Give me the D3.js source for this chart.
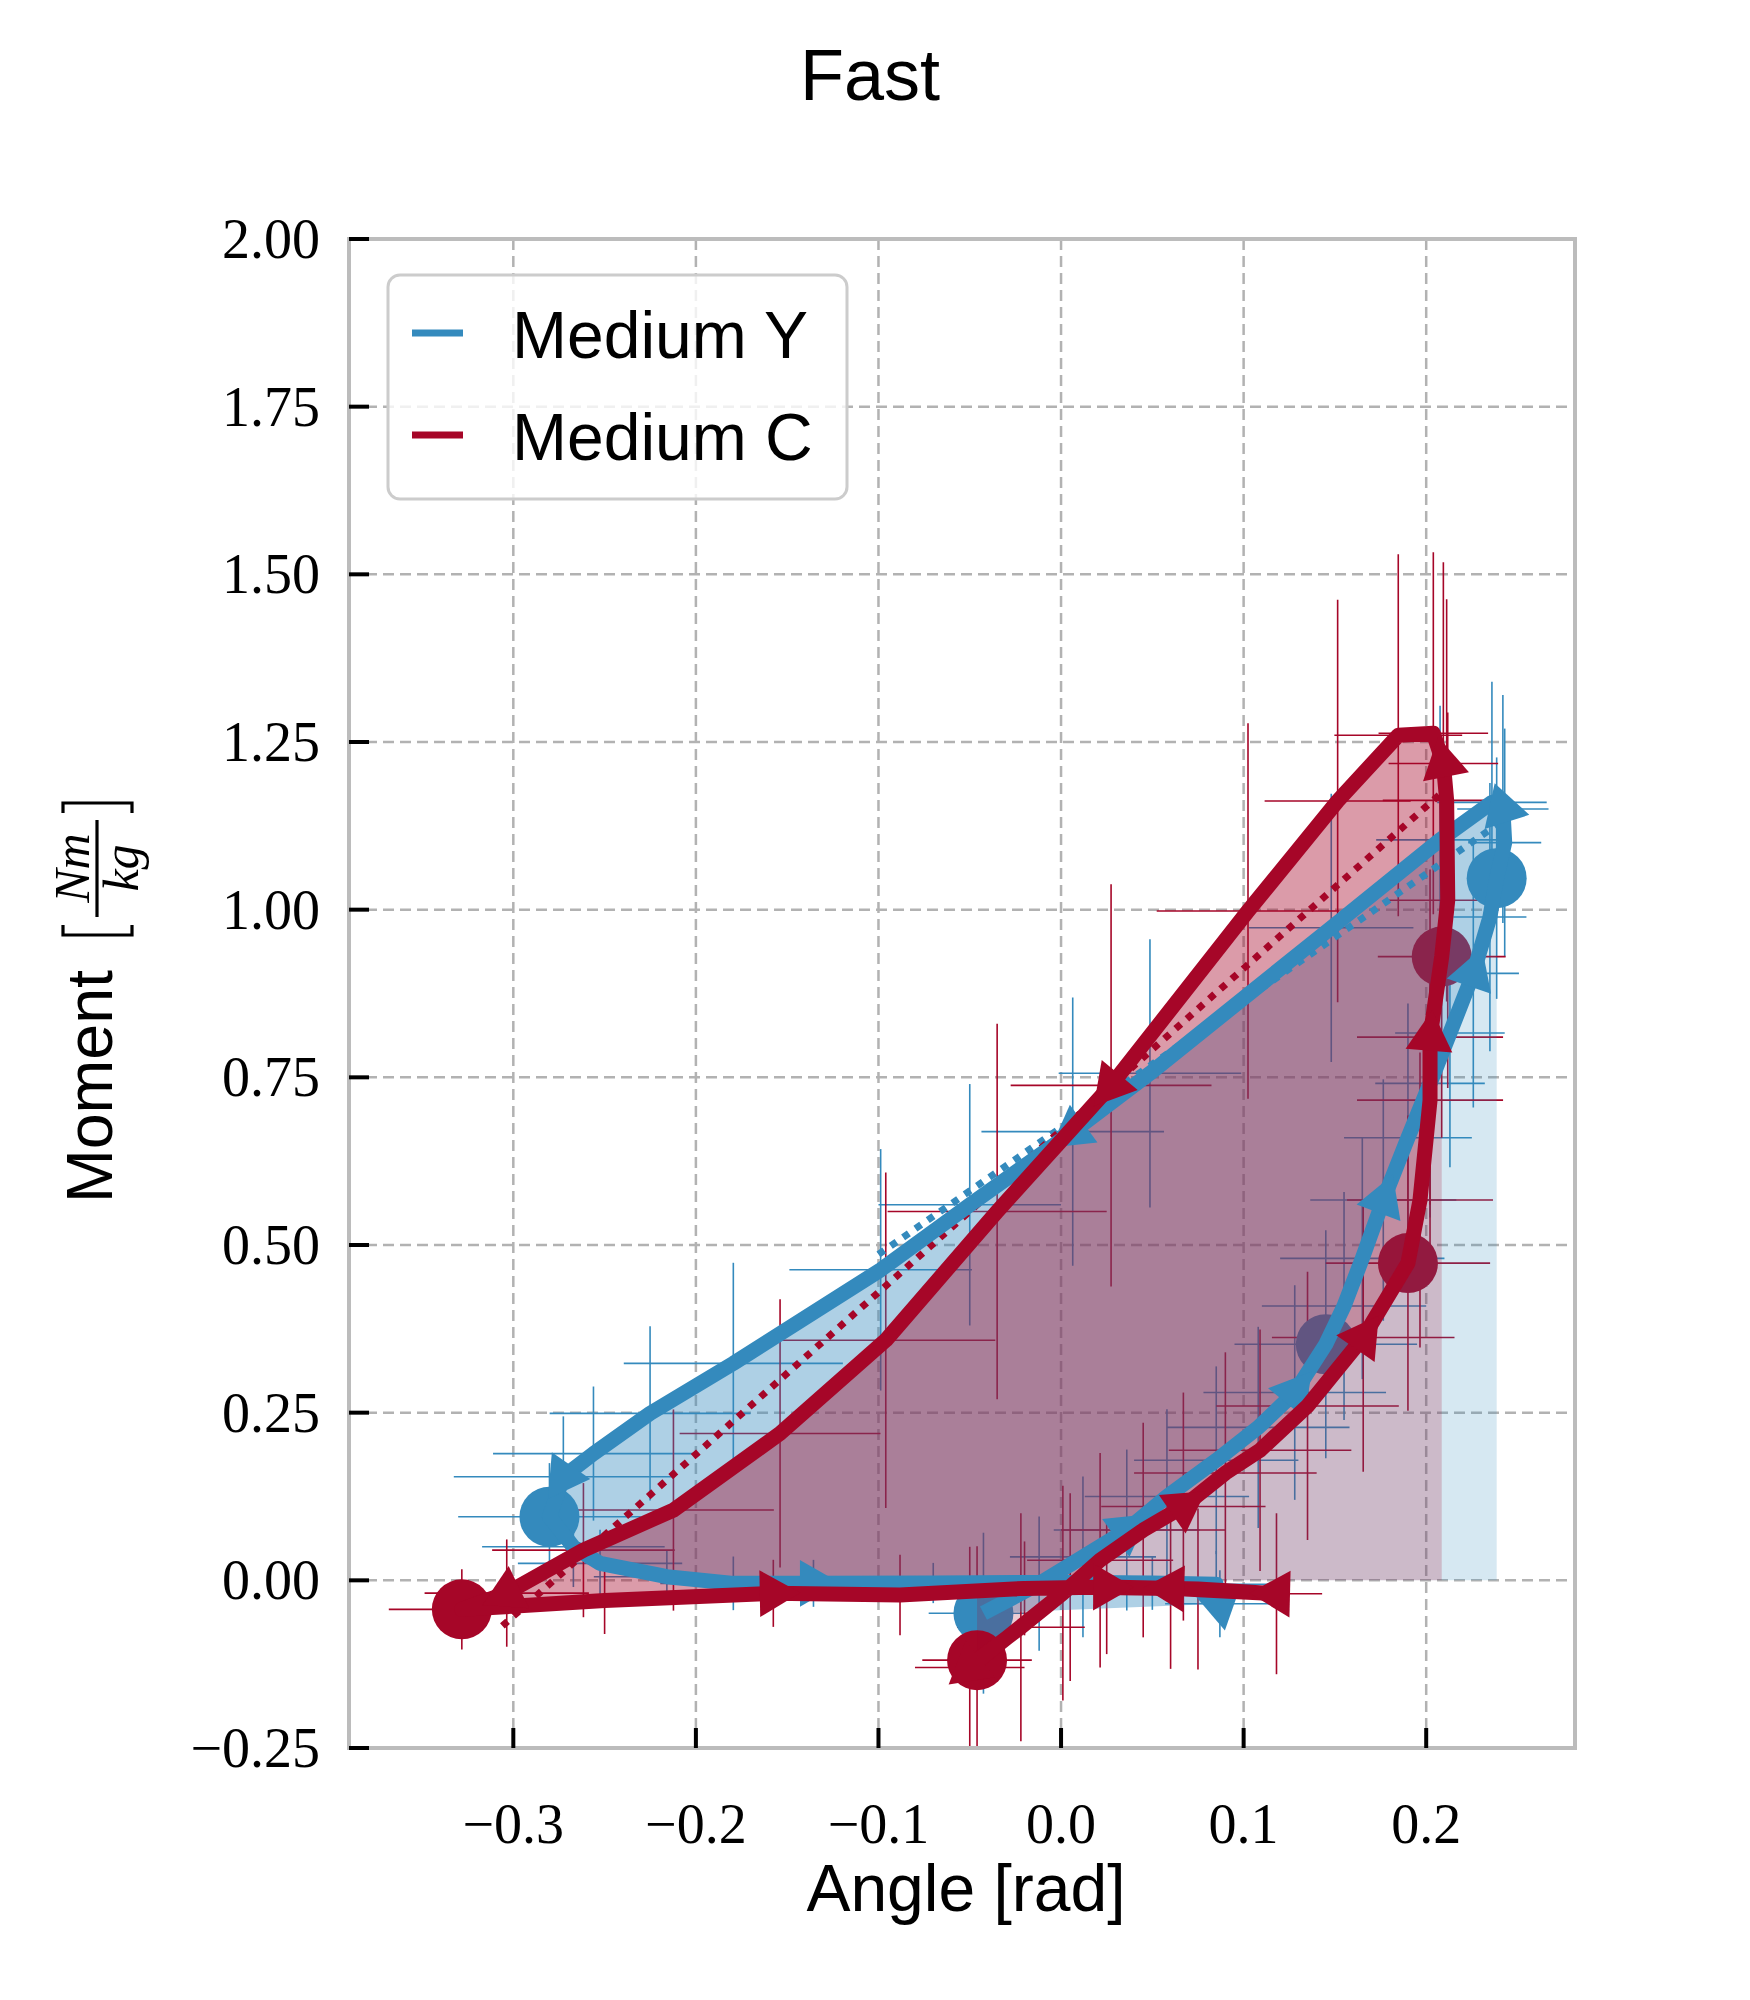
<!DOCTYPE html>
<html>
<head>
<meta charset="utf-8">
<title>Fast</title>
<script src="https://d3js.org/d3.v7.min.js"></script>
<style>
  body { margin: 0; background: #fff; }
</style>
</head>
<body>
<svg id="chart" width="1750" height="2000"></svg>
<script>
// tick values
var xTicks = [-0.3, -0.2, -0.1, 0.0, 0.1, 0.2];
var yTicks = [-0.25, 0, 0.25, 0.5, 0.75, 1.0, 1.25, 1.5, 1.75, 2.0];

// Medium Y (blue) - angle, moment, and the error of each point
var blueX = [-0.0425, -0.012, 0.012, 0.036, 0.058, 0.085, 0.108, 0.128, 0.145, 0.155,
             0.165, 0.1765, 0.19, 0.2021, 0.213, 0.2258, 0.2349, 0.2386, 0.243, 0.242,
             0.236, 0.2076, 0.148, 0.0487, 0.0064, -0.05, -0.0988, -0.1795, -0.2251, -0.2561,
             -0.2726, -0.2802, -0.2671, -0.2525, -0.2159, -0.1795, -0.1356, -0.07, 0.0, 0.05,
             0.085, 0.087];
var blueY = [-0.049, -0.005, 0.035, 0.075, 0.125, 0.179, 0.228, 0.28, 0.352, 0.409,
             0.48, 0.567, 0.66, 0.741, 0.816, 0.905, 0.989, 1.047, 1.10, 1.15,
             1.16, 1.104, 0.973, 0.756, 0.669, 0.56, 0.463, 0.3235, 0.249, 0.189,
             0.1545, 0.0948, 0.050, 0.0253, 0.0054, -0.0045, -0.0045, -0.004, -0.003, -0.004,
             -0.006, -0.035];
var blueXerr = [0.03, 0.035, 0.04, 0.04, 0.045, 0.045, 0.05, 0.05, 0.05, 0.045,
                0.045, 0.04, 0.035, 0.03, 0.03, 0.025, 0.02, 0.015, 0.02, 0.025,
                0.03, 0.035, 0.045, 0.05, 0.05, 0.05, 0.05, 0.06, 0.055, 0.055,
                0.06, 0.05, 0.05, 0.045, 0.04, 0.04, 0.035, 0.03, 0.03, 0.03,
                0.03, 0.03];
var blueYerr = [0.12, 0.10, 0.12, 0.12, 0.13, 0.14, 0.15, 0.16, 0.17, 0.17,
                0.18, 0.18, 0.20, 0.20, 0.20, 0.20, 0.20, 0.18, 0.17, 0.17,
                0.18, 0.20, 0.20, 0.20, 0.20, 0.18, 0.18, 0.15, 0.13, 0.10,
                0.09, 0.08, 0.06, 0.05, 0.04, 0.04, 0.035, 0.03, 0.03, 0.04,
                0.05, 0.05];
var blueEvents = [0, 8, 17, 31];
var blueArrows = [3, 7, 11, 15, 19, 24, 30, 36, 41];
var blueFitX = [-0.10, 0.24];
var blueFitY = [0.486, 1.129];

// Medium C (red)
var redX = [-0.046, -0.022, 0.001, 0.0214, 0.045, 0.067, 0.09, 0.109, 0.135, 0.1655,
            0.190, 0.1966, 0.2021, 0.2021, 0.2085, 0.2118, 0.2112, 0.2094, 0.2039, 0.1847,
            0.1515, 0.1024, 0.0274, -0.035, -0.096, -0.1539, -0.2123, -0.2616, -0.3036, -0.3282,
            -0.25, -0.1576, -0.0882, -0.02, 0.025, 0.075, 0.118, 0.06, 0.005, -0.05];
var redY = [-0.119, -0.07, -0.019, 0.030, 0.075, 0.110, 0.16, 0.194, 0.26, 0.362,
            0.473, 0.567, 0.716, 0.810, 0.930, 1.014, 1.163, 1.218, 1.263, 1.260,
            1.162, 0.998, 0.738, 0.55, 0.358, 0.219, 0.1048, 0.045, -0.019, -0.0433,
            -0.03, -0.0194, -0.0219, -0.012, -0.01, -0.013, -0.02, -0.012, -0.01, -0.13];
var redXerr = [0.03, 0.035, 0.04, 0.04, 0.045, 0.045, 0.05, 0.05, 0.05, 0.05,
               0.045, 0.04, 0.04, 0.04, 0.035, 0.035, 0.035, 0.03, 0.03, 0.035,
               0.04, 0.05, 0.055, 0.06, 0.06, 0.055, 0.055, 0.05, 0.045, 0.04,
               0.04, 0.035, 0.03, 0.03, 0.03, 0.03, 0.025, 0.03, 0.03, 0.03];
var redYerr = [0.17, 0.17, 0.16, 0.16, 0.16, 0.17, 0.18, 0.18, 0.20, 0.20,
               0.22, 0.22, 0.25, 0.25, 0.27, 0.28, 0.30, 0.30, 0.27, 0.27,
               0.30, 0.28, 0.30, 0.28, 0.25, 0.20, 0.15, 0.10, 0.08, 0.06,
               0.05, 0.05, 0.06, 0.07, 0.10, 0.12, 0.12, 0.12, 0.14, 0.18];
var redEvents = [0, 10, 14, 29];
var redArrows = [5, 9, 13, 17, 22, 28, 31, 34, 36, 37, 39];
var redFitX = [-0.306, 0.21];
var redFitY = [-0.068, 1.178];

var BLUE = "#348ABD", RED = "#A60628";

var svg = d3.select("#chart");
var pL = 349, pR = 1575, pT = 239, pB = 1748;

var x = d3.scaleLinear().domain([-0.390, 0.2815]).range([pL, pR]);
var y = d3.scaleLinear().domain([-0.25, 2.0]).range([pB, pT]);

function pts(xs, ys, xe, ye) {
  return xs.map(function(v, i) { return {x: v, y: ys[i], xe: xe[i], ye: ye[i]}; });
}
var series = [
  {name: "Medium Y", color: BLUE, data: pts(blueX, blueY, blueXerr, blueYerr),
   events: blueEvents, arrows: blueArrows, fitX: blueFitX, fitY: blueFitY},
  {name: "Medium C", color: RED, data: pts(redX, redY, redXerr, redYerr),
   events: redEvents, arrows: redArrows, fitX: redFitX, fitY: redFitY}
];

svg.append("defs").append("clipPath").attr("id", "clip")
  .append("rect").attr("x", pL).attr("y", pT)
  .attr("width", pR - pL).attr("height", pB - pT);

// grid
var grid = svg.append("g");
grid.selectAll(".gx").data(xTicks).enter().append("line")
  .attr("x1", function(d) { return x(d); }).attr("x2", function(d) { return x(d); })
  .attr("y1", pT).attr("y2", pB)
  .attr("stroke", "#b2b2b2").attr("stroke-width", 2.5).attr("stroke-dasharray", "11,6");
grid.selectAll(".gy").data(yTicks).enter().append("line")
  .attr("x1", pL).attr("x2", pR)
  .attr("y1", function(d) { return y(d); }).attr("y2", function(d) { return y(d); })
  .attr("stroke", "#b2b2b2").attr("stroke-width", 2.5).attr("stroke-dasharray", "11,6");

var plot = svg.append("g").attr("clip-path", "url(#clip)");

// error bars
series.forEach(function(s) {
  var g = plot.append("g").attr("stroke", s.color).attr("stroke-width", 1.6);
  g.selectAll(".h").data(s.data).enter().append("line")
    .attr("x1", function(d) { return x(d.x - d.xe); })
    .attr("x2", function(d) { return x(d.x + d.xe); })
    .attr("y1", function(d) { return y(d.y); })
    .attr("y2", function(d) { return y(d.y); });
  g.selectAll(".v").data(s.data).enter().append("line")
    .attr("x1", function(d) { return x(d.x); })
    .attr("x2", function(d) { return x(d.x); })
    .attr("y1", function(d) { return y(d.y - d.ye); })
    .attr("y2", function(d) { return y(d.y + d.ye); });
});

// event circles
series.forEach(function(s) {
  plot.append("g").selectAll("circle")
    .data(s.events.map(function(i) { return s.data[i]; }))
    .enter().append("circle")
    .attr("cx", function(d) { return x(d.x); })
    .attr("cy", function(d) { return y(d.y); })
    .attr("r", 30).attr("fill", s.color);
});

// fills: loop area and area under the loading phase
var loop = d3.line().x(function(d) { return x(d.x); }).y(function(d) { return y(d.y); });
var under = d3.area().x(function(d) { return x(d.x); }).y0(y(0)).y1(function(d) { return y(d.y); });
series.forEach(function(s) {
  plot.append("path").attr("d", loop(s.data) + "Z")
    .attr("fill", s.color).attr("fill-opacity", 0.4);
  plot.append("path").attr("d", under(s.data.slice(0, s.events[2] + 1)))
    .attr("fill", s.color).attr("fill-opacity", 0.2);
});

// fit lines (dotted)
series.forEach(function(s) {
  plot.append("line")
    .attr("x1", x(s.fitX[0])).attr("y1", y(s.fitY[0]))
    .attr("x2", x(s.fitX[1])).attr("y2", y(s.fitY[1]))
    .attr("stroke", s.color).attr("stroke-width", 7).attr("stroke-dasharray", "7,8");
});

// main lines and direction markers
series.forEach(function(s) {
  plot.append("path").attr("d", loop(s.data))
    .attr("fill", "none").attr("stroke", s.color).attr("stroke-width", 15)
    .attr("stroke-linejoin", "round");
  var n = s.data.length;
  plot.append("g").selectAll("path").data(s.arrows).enter().append("path")
    .attr("d", d3.symbol().type(d3.symbolTriangle).size(950))
    .attr("fill", s.color)
    .attr("transform", function(i) {
      var a = s.data[Math.max(i - 1, 0)], b = s.data[Math.min(i + 1, n - 1)];
      var ang = Math.atan2(y(b.y) - y(a.y), x(b.x) - x(a.x)) * 180 / Math.PI + 90;
      return "translate(" + x(s.data[i].x) + "," + y(s.data[i].y) + ") rotate(" + ang + ")";
    });
});

// frame
svg.append("rect").attr("x", pL).attr("y", pT)
  .attr("width", pR - pL).attr("height", pB - pT)
  .attr("fill", "none").attr("stroke", "#bcbcbc").attr("stroke-width", 4);

// ticks
var fmtY = d3.format(".2f"), fmtX = d3.format(".1f");
function minus(s) { return s.replace("-", "\u2212"); }
svg.append("g").selectAll("line").data(yTicks).enter().append("line")
  .attr("x1", pL).attr("x2", pL + 20)
  .attr("y1", function(d) { return y(d); }).attr("y2", function(d) { return y(d); })
  .attr("stroke", "#000").attr("stroke-width", 4);
svg.append("g").selectAll("text").data(yTicks).enter().append("text")
  .attr("x", 320).attr("y", function(d) { return y(d) + 19; })
  .attr("text-anchor", "end")
  .style("font-family", "'Liberation Serif', serif").style("font-size", "56px")
  .text(function(d) { return minus(fmtY(d)); });
svg.append("g").selectAll("line").data(xTicks).enter().append("line")
  .attr("x1", function(d) { return x(d); }).attr("x2", function(d) { return x(d); })
  .attr("y1", pB).attr("y2", pB - 20)
  .attr("stroke", "#000").attr("stroke-width", 4);
svg.append("g").selectAll("text").data(xTicks).enter().append("text")
  .attr("x", function(d) { return x(d); }).attr("y", 1843)
  .attr("text-anchor", "middle")
  .style("font-family", "'Liberation Serif', serif").style("font-size", "56px")
  .text(function(d) { return minus(fmtX(d)); });

// titles
var sans = "'Liberation Sans', sans-serif";
svg.append("text").attr("x", 870).attr("y", 100).attr("text-anchor", "middle")
  .style("font-family", sans).style("font-size", "72px").text("Fast");
svg.append("text").attr("x", 966).attr("y", 1911).attr("text-anchor", "middle")
  .style("font-family", sans).style("font-size", "66px").text("Angle [rad]");

var yl = svg.append("g").attr("transform", "rotate(-90)");
yl.append("text").attr("x", -1203).attr("y", 112)
  .attr("textLength", 233).attr("lengthAdjust", "spacingAndGlyphs")
  .style("font-family", sans).style("font-size", "64px").text("Moment");
yl.append("text").attr("x", -868).attr("y", 89).attr("text-anchor", "middle")
  .style("font-family", "'Liberation Serif', serif").style("font-style", "italic")
  .style("font-size", "50px").text("Nm");
yl.append("text").attr("x", -868).attr("y", 138).attr("text-anchor", "middle")
  .style("font-family", "'Liberation Serif', serif").style("font-style", "italic")
  .style("font-size", "50px").text("kg");
var br = svg.append("g").attr("stroke", "#000").attr("stroke-width", 3.2).attr("fill", "none");
br.append("line").attr("x1", 97).attr("x2", 97).attr("y1", 820).attr("y2", 917);
br.append("path").attr("d", "M63,925 L63,935 L132,935 L132,925");
br.append("path").attr("d", "M63,813 L63,803 L132,803 L132,813");

// legend
var lg = svg.append("g");
lg.append("rect").attr("x", 388).attr("y", 275).attr("width", 459).attr("height", 224)
  .attr("rx", 12).attr("fill", "#fff").attr("fill-opacity", 0.8)
  .attr("stroke", "#cccccc").attr("stroke-width", 3);
series.forEach(function(s, i) {
  var yy = 333 + i * 102;
  lg.append("line").attr("x1", 412).attr("x2", 463).attr("y1", yy).attr("y2", yy)
    .attr("stroke", s.color).attr("stroke-width", 7);
  lg.append("text").attr("x", 512).attr("y", yy + 25)
    .style("font-family", sans).style("font-size", "66px").text(s.name);
});
</script>
</body>
</html>
